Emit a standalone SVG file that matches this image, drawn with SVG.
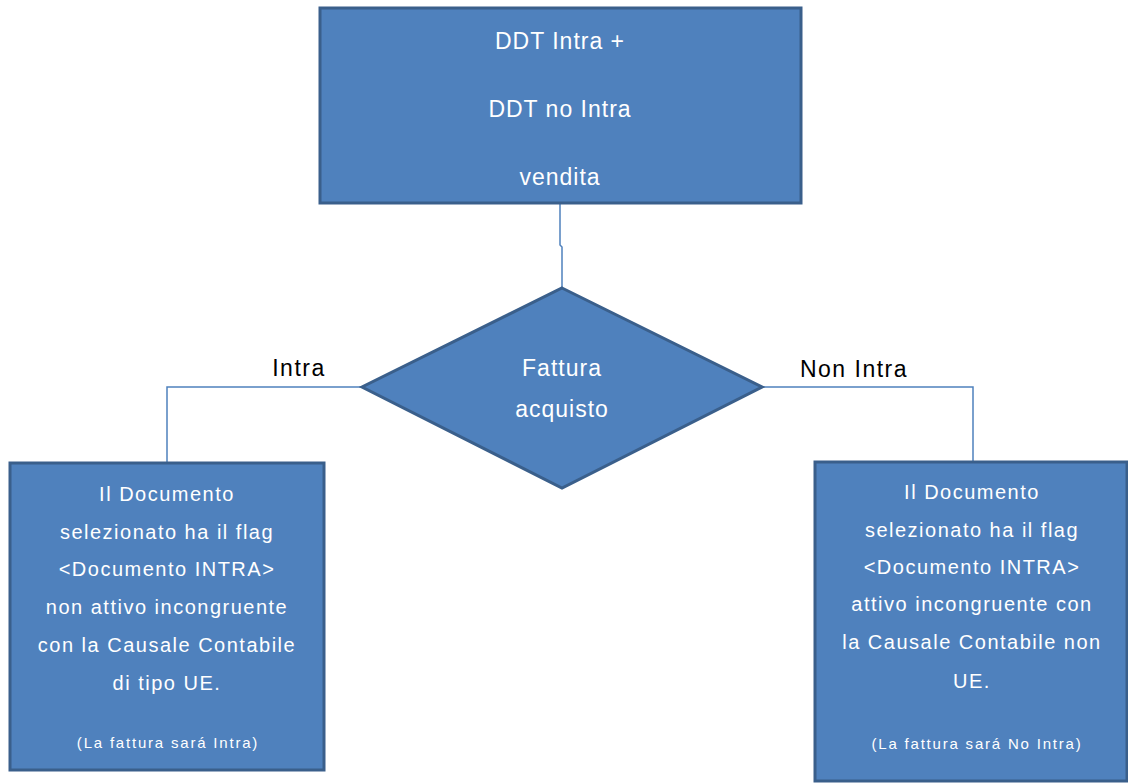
<svg xmlns="http://www.w3.org/2000/svg" width="1128" height="783" viewBox="0 0 1128 783">
<style>
.shape{fill:#4F81BD;stroke:#3A5F8B;stroke-width:3}
.conn{fill:none;stroke:#4F81BD;stroke-width:1.5}
.t{font-family:"Liberation Sans",Arial,sans-serif;fill:#fff;text-anchor:middle}
.big{font-size:23px;letter-spacing:1px}
.mid{font-size:20px;letter-spacing:1.5px}
.small{font-size:15px;letter-spacing:1.8px}
.lbl{font-family:"Liberation Sans",Arial,sans-serif;fill:#000;font-size:23px;letter-spacing:1.5px;text-anchor:middle}
</style>
<rect width="1128" height="783" fill="#fff"/>
<g id="connectors">
<path class="conn" d="M560,203 V245 L562,247 V288"/>
<path class="conn" d="M362,387 H167 V463"/>
<path class="conn" d="M762,387 H973 V462"/>
<text class="lbl" x="299" y="376">Intra</text>
<text class="lbl" x="854" y="377">Non Intra</text>
</g>
<g id="top">
<rect class="shape" x="320" y="8" width="481" height="195"/>
<text class="t big" x="560" y="49">DDT Intra +</text>
<text class="t big" x="560" y="117">DDT no Intra</text>
<text class="t big" x="560" y="185">vendita</text>
</g>
<g id="decision">
<polygon class="shape" points="562,288 762,387 562,488 362,387"/>
<text class="t big" x="562" y="376">Fattura</text>
<text class="t big" x="562" y="417">acquisto</text>
</g>
<g id="left">
<rect class="shape" x="10" y="463" width="314" height="307"/>
<text class="t mid" x="167" y="501">Il Documento</text>
<text class="t mid" x="167" y="539">selezionato ha il flag</text>
<text class="t mid" x="167" y="576">&lt;Documento INTRA&gt;</text>
<text class="t mid" x="167" y="614">non attivo incongruente</text>
<text class="t mid" x="167" y="652">con la Causale Contabile</text>
<text class="t mid" x="167" y="690">di tipo UE.</text>
<text class="t small" x="168" y="748">(La fattura sará Intra)</text>
</g>
<g id="right">
<rect class="shape" x="815" y="462" width="312" height="319"/>
<text class="t mid" x="972" y="499">Il Documento</text>
<text class="t mid" x="972" y="537">selezionato ha il flag</text>
<text class="t mid" x="972" y="574">&lt;Documento INTRA&gt;</text>
<text class="t mid" x="972" y="611">attivo incongruente con</text>
<text class="t mid" x="972" y="649">la Causale Contabile non</text>
<text class="t mid" x="972" y="688">UE.</text>
<text class="t small" x="977" y="749">(La fattura sará No Intra)</text>
</g>
</svg>
